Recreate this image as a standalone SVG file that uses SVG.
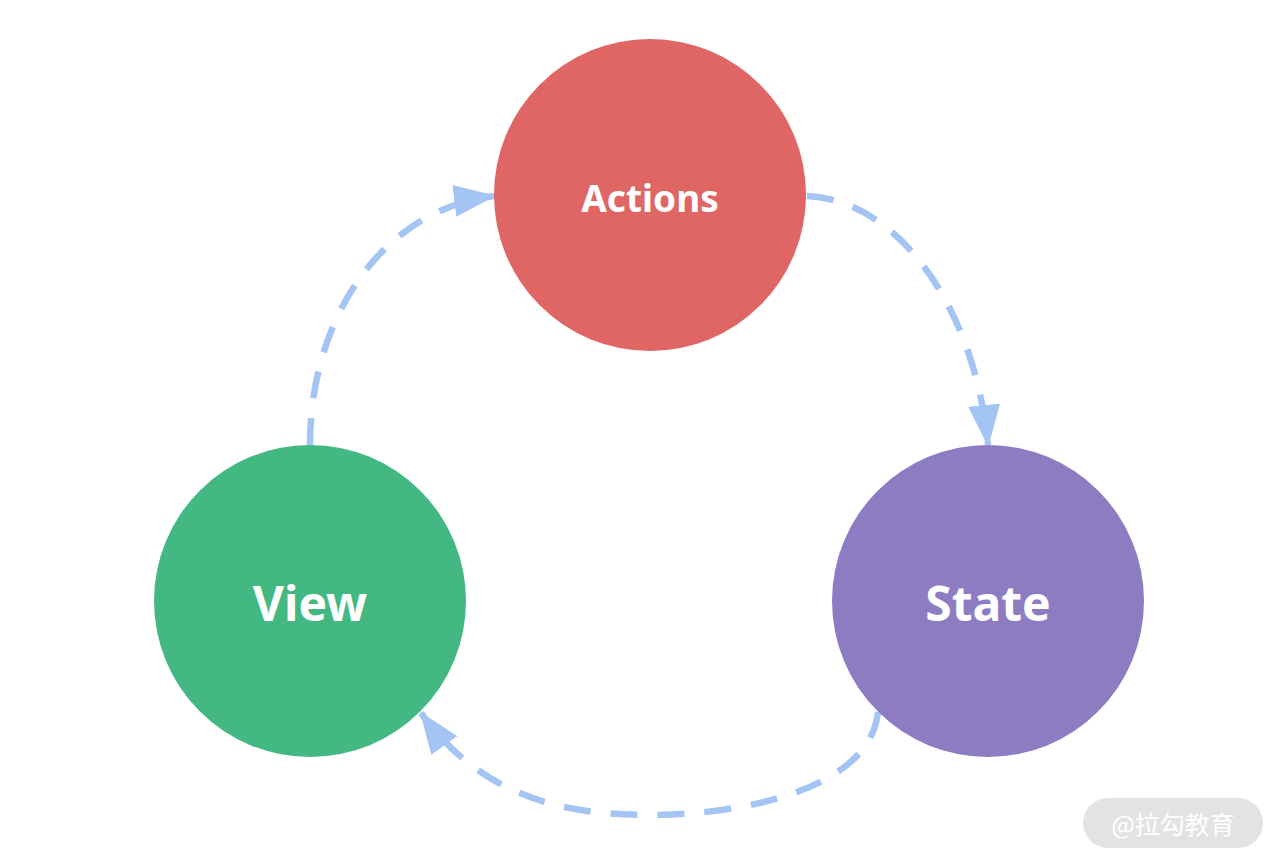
<svg xmlns="http://www.w3.org/2000/svg" width="1280" height="866" viewBox="0 0 1280 866">
<style>
.node text{font-family:"Noto Sans","Open Sans","Liberation Sans",sans-serif;font-weight:bold;fill:#ffffff;text-anchor:middle;dominant-baseline:central}
.conn{fill:none;stroke:#A4C4F4;stroke-width:6.5;stroke-dasharray:27 20}
.wm{font-family:"Noto Sans CJK SC","Noto Sans",sans-serif;fill:#ffffff;font-size:25px;text-anchor:middle;dominant-baseline:central}
</style>
<defs>
<marker id="ah" markerUnits="userSpaceOnUse" viewBox="0 0 42 32" markerWidth="42" markerHeight="32" refX="40" refY="16" orient="auto">
<path d="M0,0 L42,16 L0,32 z" fill="#A4C4F4"/>
</marker>
</defs>
<rect width="1280" height="866" fill="#ffffff"/>
<g id="connectors">
<path class="conn" d="M310,445 C310,320 380,210 494,196" marker-end="url(#ah)"/>
<path class="conn" d="M807,196 C900,200 975,310 988,445" marker-end="url(#ah)"/>
<path class="conn" d="M878,712 C870,790 740,815 650,815 C560,815 480,795 421,713" marker-end="url(#ah)"/>
</g>
<g id="actions" class="node">
<circle cx="650" cy="195" r="156" fill="#E06666"/>
<text x="650" y="197" font-size="37">Actions</text>
</g>
<g id="view" class="node">
<circle cx="310" cy="601" r="156" fill="#43B883"/>
<text x="310" y="602" font-size="48">View</text>
</g>
<g id="state" class="node">
<circle cx="988" cy="601" r="156" fill="#8E7CC3"/>
<text x="988" y="602" font-size="48">State</text>
</g>
<g id="watermark">
<rect x="1083" y="798" width="180" height="50" rx="25" fill="#E3E3E3"/>
<text class="wm" x="1173" y="823">@拉勾教育</text>
</g>
</svg>
